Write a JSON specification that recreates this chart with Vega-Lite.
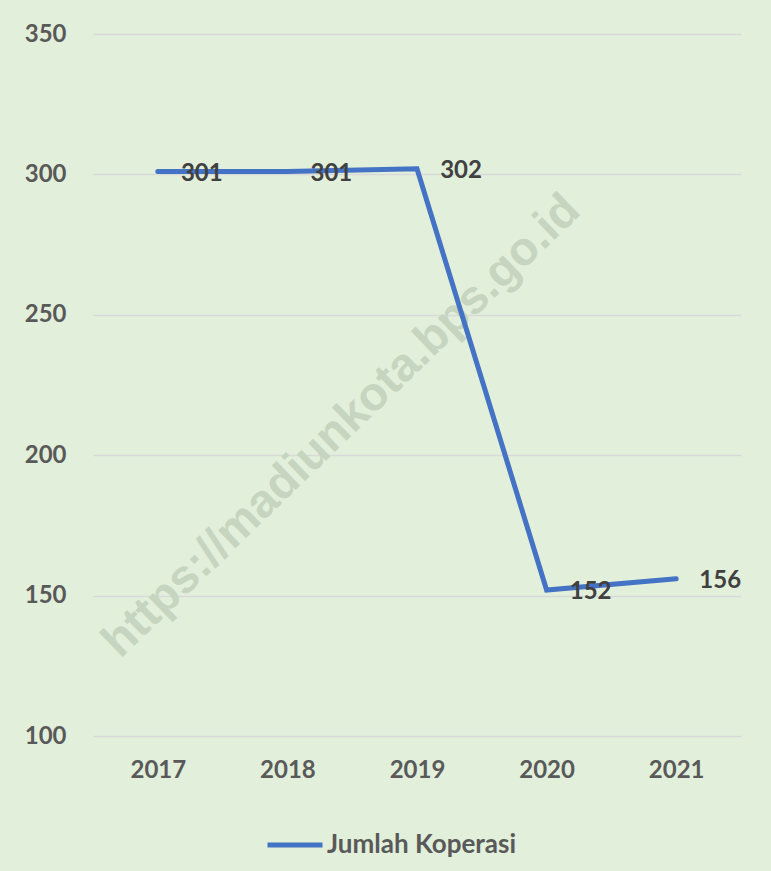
{
  "$schema": "https://vega.github.io/schema/vega-lite/v6.json",
  "width": 648,
  "height": 702,
  "autosize": "none",
  "padding": {"left": 93, "top": 34, "right": 30, "bottom": 135},
  "background": "#E2EFDA",
  "config": {
    "view": {"stroke": null},
    "font": "Lato"
  },
  "datasets": {
    "main": [
      {"year": "2017", "value": 301, "series": "Jumlah Koperasi"},
      {"year": "2018", "value": 301, "series": "Jumlah Koperasi"},
      {"year": "2019", "value": 302, "series": "Jumlah Koperasi"},
      {"year": "2020", "value": 152, "series": "Jumlah Koperasi"},
      {"year": "2021", "value": 156, "series": "Jumlah Koperasi"}
    ],
    "wm": [
      {"year": "2018", "value": 215, "text": "https://madiunkota.bps.go.id"}
    ]
  },
  "encoding": {
    "x": {"field": "year", "type": "ordinal", "scale": {"type": "point", "padding": 0.5},
      "axis": {"title": null, "domain": false, "ticks": false, "labelAngle": 0, "labelAlign": "center", "labelFont": "Lato", "labelFontSize": 24, "labelFontWeight": "bold", "labelColor": "#595959", "labelPadding": 22, "grid": false}},
    "y": {"field": "value", "type": "quantitative", "scale": {"domain": [100, 350], "nice": false, "zero": false},
      "axis": {"title": null, "values": [100, 150, 200, 250, 300, 350], "domain": false, "ticks": false, "labelFont": "Lato", "labelFontSize": 24, "labelFontWeight": "bold", "labelColor": "#595959", "labelPadding": 27, "gridColor": "#D9D9D9", "gridWidth": 1.5}}
  },
  "layer": [
    {
      "data": {"name": "wm"},
      "mark": {"type": "text", "angle": -44, "fontSize": 47, "fontWeight": "bold", "font": "Liberation Sans", "fill": "#C6D5C0", "dx": 30, "dy": 47, "align": "center", "baseline": "middle"},
      "encoding": {
        "text": {"field": "text"}
      }
    },
    {
      "data": {"name": "main"},
      "mark": {"type": "line", "strokeWidth": 5, "strokeCap": "round", "strokeJoin": "miter"},
      "encoding": {
        "color": {"field": "series", "type": "nominal", "scale": {"range": ["#4472C4"]},
          "legend": {"title": null, "orient": "none", "legendX": 172, "legendY": 781, "symbolType": "stroke", "symbolSize": 3025, "symbolStrokeWidth": 5, "labelFont": "Lato", "labelFontSize": 26, "labelFontWeight": "bold", "labelColor": "#595959", "labelOffset": 2, "labelLimit": 400}}
      }
    },
    {
      "data": {"name": "main"},
      "mark": {"type": "text", "dx": 44, "dy": 2, "align": "center", "baseline": "middle", "fontSize": 24, "fontWeight": "bold", "fill": "#404040"},
      "encoding": {
        "text": {"field": "value", "type": "quantitative"}
      }
    }
  ]
}
